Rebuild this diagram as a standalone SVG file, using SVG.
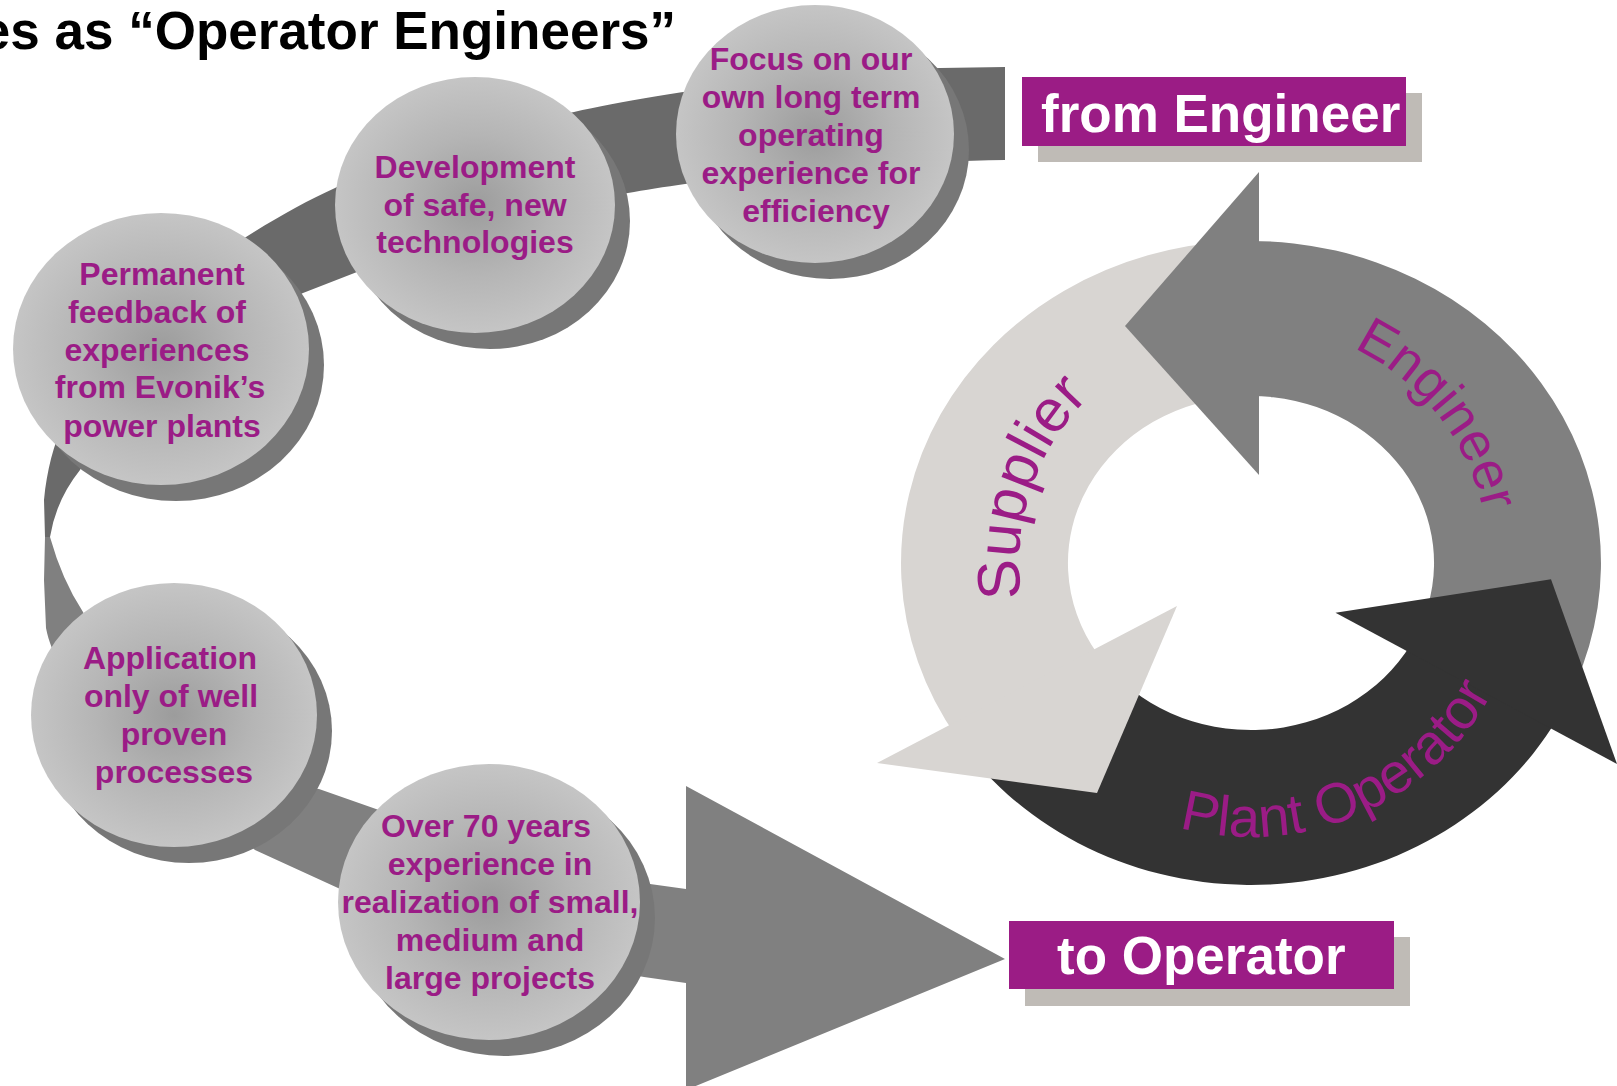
<svg xmlns="http://www.w3.org/2000/svg" xmlns:xlink="http://www.w3.org/1999/xlink" width="1617" height="1086" viewBox="0 0 1617 1086">
<style>
.title{font-family:"Liberation Sans",Arial,sans-serif;font-weight:bold;font-size:53px;fill:#000}
.ct{font-family:"Liberation Sans",Arial,sans-serif;font-weight:bold;font-size:32px;fill:#9b1c86;text-anchor:middle}
.shadow{fill:#777777}
.disc{fill:url(#discGrad)}
.boxtxt{font-family:"Liberation Sans",Arial,sans-serif;font-weight:bold;font-size:53px;fill:#ffffff}
.boxfill{fill:#9b1c85}
.boxshadow{fill:#bfbbb6}
.arclbl{font-family:"Liberation Sans",Arial,sans-serif;fill:#9b1c86}
</style>
<defs>
<radialGradient id="discGrad" cx="50%" cy="50%" r="50%">
<stop offset="0" stop-color="#9c9c9c"/>
<stop offset="0.55" stop-color="#b5b5b5"/>
<stop offset="1" stop-color="#c5c5c5"/>
</radialGradient>
<path id="pEng" d="M1236.5,325.4 A238,238 0 0 1 1479.2,630.6"/>
<path id="pSup" d="M1064.5,701 A232,232 0 0 1 1185.1,340.6"/>
<path id="pOp" d="M1127.5,807.6 A274,274 0 0 0 1513.3,642.2"/>
</defs>
<rect width="1617" height="1086" fill="#ffffff"/>

<text class="title" x="676" y="49" text-anchor="end">es as “Operator Engineers”</text>

<g id="connectors">
<path id="band-top" fill="#6a6a6a" d="M1005,67 L940,68 C800,72 650,95 574,112 C470,135 380,165 335,188 C260,222 160,290 110,350 C70,400 50,440 44,500 L45,537 L50,537 Q56,500 80,470 C120,400 220,330 303,293 L357,272 C450,235 560,205 628,193 C700,180 850,162 1005,160 Z"/>
<path id="band-bottom" fill="#808080" d="M45,537 L44,580 L46,628 C60,700 150,770 319,789 L376,809 C450,840 560,870 650,884 L686,889 L686,786 L1005,959 L686,1090 L686,983 L644,977 C540,960 430,925 338,888 L255,850 C200,800 120,700 83,612 Q62,580 50,537 Z"/>
</g>

<g id="node-feedback">
<ellipse class="shadow" cx="176" cy="365" rx="148" ry="136"/>
<ellipse class="disc" cx="161" cy="349" rx="148" ry="136"/>
<text class="ct" x="162" y="285">Permanent</text>
<text class="ct" x="157" y="323">feedback of</text>
<text class="ct" x="157" y="361">experiences</text>
<text class="ct" x="160" y="398">from Evonik’s</text>
<text class="ct" x="162" y="437">power plants</text>
</g>

<g id="node-development">
<ellipse class="shadow" cx="490" cy="221" rx="140" ry="128"/>
<ellipse class="disc" cx="475" cy="205" rx="140" ry="128"/>
<text class="ct" x="475" y="178">Development</text>
<text class="ct" x="475" y="216">of safe, new</text>
<text class="ct" x="475" y="253">technologies</text>
</g>

<g id="node-focus">
<ellipse class="shadow" cx="830" cy="150" rx="139" ry="129"/>
<ellipse class="disc" cx="815" cy="134" rx="139" ry="129"/>
<text class="ct" x="811" y="70">Focus on our</text>
<text class="ct" x="811" y="108">own long term</text>
<text class="ct" x="811" y="146">operating</text>
<text class="ct" x="811" y="184">experience for</text>
<text class="ct" x="816" y="222">efficiency</text>
</g>

<g id="node-application">
<ellipse class="shadow" cx="189" cy="731" rx="143" ry="132"/>
<ellipse class="disc" cx="174" cy="715" rx="143" ry="132"/>
<text class="ct" x="170" y="669">Application</text>
<text class="ct" x="171" y="707">only of well</text>
<text class="ct" x="174" y="745">proven</text>
<text class="ct" x="174" y="783">processes</text>
</g>

<g id="node-experience">
<ellipse class="shadow" cx="504" cy="918" rx="151" ry="138"/>
<ellipse class="disc" cx="489" cy="902" rx="151" ry="138"/>
<text class="ct" x="486" y="837">Over 70 years</text>
<text class="ct" x="490" y="875">experience in</text>
<text class="ct" x="490" y="913">realization of small,</text>
<text class="ct" x="490" y="951">medium and</text>
<text class="ct" x="490" y="989">large projects</text>
</g>

<g id="node-from-engineer">
<rect class="boxshadow" x="1038" y="93" width="384" height="69"/>
<rect class="boxfill" x="1022" y="77" width="384" height="69"/>
<text class="boxtxt" x="1041" y="132">from Engineer</text>
</g>

<g id="node-to-operator">
<rect class="boxshadow" x="1025" y="937" width="385" height="69"/>
<rect class="boxfill" x="1009" y="921" width="385" height="68"/>
<text class="boxtxt" x="1057" y="974">to Operator</text>
</g>

<g id="cycle">
<path id="body-engineer" fill="#808080" d="M1251,241 A350,322 0 0 1 1575.5,683.6 L1420.7,625.6 A183,167 0 0 0 1251,396 Z"/>
<path id="body-supplier" fill="#d8d5d2" d="M1238.8,241.2 A350,322 0 0 0 957.5,738.4 L1097.5,654 A183,167 0 0 1 1244.6,396.1 Z"/>
<path id="body-operator" fill="#333333" d="M964.3,747.7 A350,322 0 0 0 1557.1,719.1 L1411.1,644 A183,167 0 0 1 1101.1,658.8 Z"/>
<polygon id="head-engineer" fill="#808080" points="1259,172 1259,475 1125,326"/>
<polygon id="head-supplier" fill="#d8d5d2" points="1177,606 877,763 1097,793"/>
<polygon id="head-operator" fill="#333333" points="1335.5,612.8 1551,579.3 1617,764"/>
<text class="arclbl" font-size="54"><textPath xlink:href="#pEng" href="#pEng" startOffset="50%" text-anchor="middle">Engineer</textPath></text>
<text class="arclbl" font-size="60"><textPath xlink:href="#pSup" href="#pSup" startOffset="50%" text-anchor="middle">Supplier</textPath></text>
<text class="arclbl" font-size="56.5"><textPath xlink:href="#pOp" href="#pOp" startOffset="50%" text-anchor="middle">Plant Operator</textPath></text>
</g>
</svg>
